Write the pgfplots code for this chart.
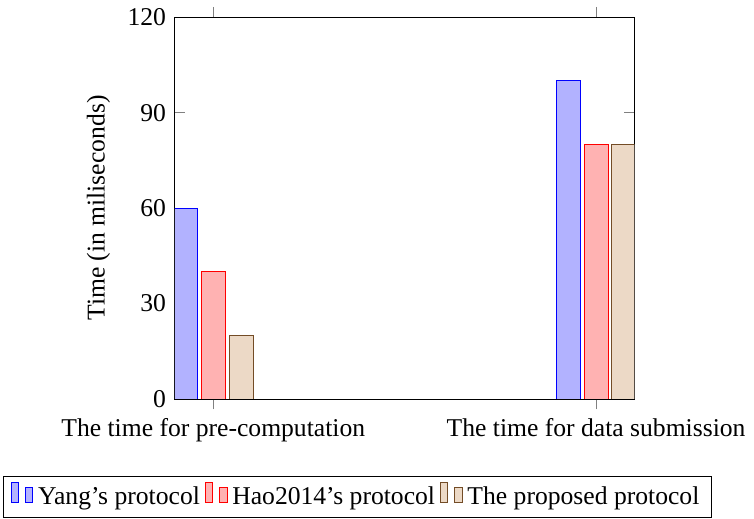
\documentclass[border=0pt]{standalone}
\usepackage{fontspec}
\setmainfont{Liberation Serif}
\usepackage{pgfplots}
\pgfplotsset{compat=1.18}
\begin{document}
\fontsize{10.6pt}{12.7pt}\selectfont
\begin{tikzpicture}
\begin{axis}[
  name=ax,
  ybar=1.6pt,
  bar width=9.9pt,
  scale only axis,
  width=190.1pt, height=158pt,
  xmin=-0.1, xmax=1.1,
  ymin=0, ymax=120,
  ytick={0,30,60,90,120},
  xtick={0,1},
  xticklabels={The time for pre-computation, The time for data submission},
  ylabel={Time (in miliseconds)},
  /pgf/number format/assume math mode=true,
  legend columns=-1,
  legend style={at={(axis description cs:0,0)}, anchor=north west, xshift=-71.2pt, yshift=-32pt, draw=black},
]
\addplot coordinates {(0,60) (1,100)};
\addplot coordinates {(0,40) (1,80)};
\addplot coordinates {(0,20) (1,80)};
\legend{Yang's protocol, Hao2014's protocol, The proposed protocol}
\end{axis}
\path ([shift={(-72.4pt,-49.4pt)}]ax.south west) rectangle ([shift={(237.9pt,163.4pt)}]ax.south west);
\end{tikzpicture}
\end{document}
